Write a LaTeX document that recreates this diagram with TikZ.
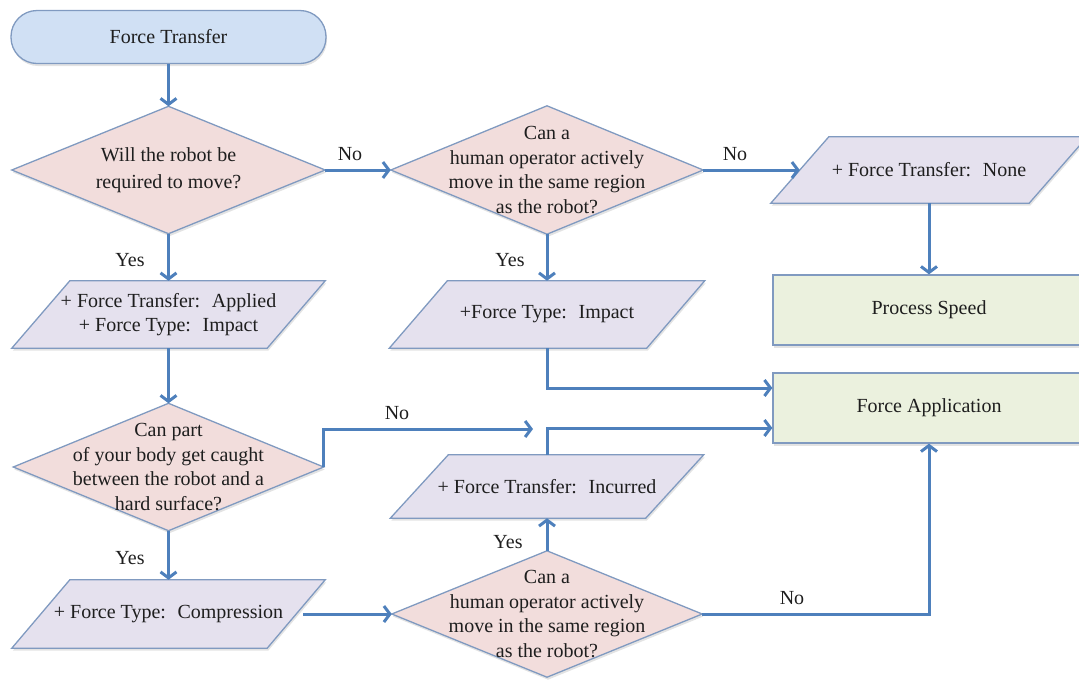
\documentclass[tikz,border=0pt]{standalone}
\usepackage{fontspec}
\setmainfont{Liberation Serif}
\newfontfamily\timesf{Liberation Serif}
\usetikzlibrary{arrows.meta,shadows,calc}
\pgfdeclarelayer{background}
\pgfsetlayers{background,main}
\definecolor{edgeC}{RGB}{128,154,192}
\definecolor{arrowC}{RGB}{78,128,188}
\definecolor{startC}{RGB}{208,224,244}
\definecolor{decC}{RGB}{242,221,220}
\definecolor{ioC}{RGB}{229,225,238}
\definecolor{procC}{RGB}{235,241,222}
\definecolor{txtC}{RGB}{30,30,30}
\tikzset{
  base/.style={inner sep=0pt, text=txtC, font=\timesf\fontsize{20}{24.5}\selectfont, align=center},
  shapeline/.style={draw=edgeC, line width=1.3pt,
    drop shadow={shadow xshift=1pt, shadow yshift=-2.5pt, opacity=0.22}},
  conn/.style={draw=arrowC, line width=3pt, -{Straight Barb[length=6pt,width=16pt]}},
  lbl/.style={base}
}
\newcommand{\dshape}[1]{\begin{pgfonlayer}{background}\path[fill=decC,shapeline] (#1.north)--(#1.east)--(#1.south)--(#1.west)--cycle;\end{pgfonlayer}}
\newcommand{\pshape}[1]{\begin{pgfonlayer}{background}\path[fill=ioC,shapeline] ([xshift=-29pt]#1.south west)--([xshift=29pt]#1.north west)--([xshift=29pt]#1.north east)--([xshift=-29pt]#1.south east)--cycle;\end{pgfonlayer}}
\begin{document}
\begin{tikzpicture}[x=1pt,y=-1pt]
\useasboundingbox (0,0) rectangle (1079,681);
% start
\node[base, minimum width=315pt, minimum height=53pt, rounded corners=26pt, fill=startC, shapeline] (start) at (168.5,37) {Force Transfer};
% decisions
\node[base, minimum width=313pt, minimum height=127pt, font=\timesf\fontsize{20}{27}\selectfont] (d1) at (168.5,170) {Will the robot be\\required to move?};
\dshape{d1}
\node[base, minimum width=312pt, minimum height=128pt] (d2) at (547,170) {Can a\\human operator actively\\move in the same region\\as the robot?};
\dshape{d2}
\node[base, minimum width=310pt, minimum height=127pt] (d3) at (168.5,467) {Can part\\of your body get caught\\between the robot and a\\hard surface?};
\dshape{d3}
\node[base, minimum width=310pt, minimum height=126pt] (d4) at (547,614) {Can a\\human operator actively\\move in the same region\\as the robot?};
\dshape{d4}
% data (parallelograms)
\node[base, minimum width=258pt, minimum height=66pt] (none) at (929,170) {+ Force Transfer:~ None};
\pshape{none}
\node[base, minimum width=255pt, minimum height=67pt] (applied) at (168.5,314.5) {+ Force Transfer:~ Applied\\+ Force Type:~ Impact};
\pshape{applied}
\node[base, minimum width=257pt, minimum height=67pt] (impact) at (547,314.5) {+Force Type:~ Impact};
\pshape{impact}
\node[base, minimum width=255pt, minimum height=63pt] (incurred) at (547,486.5) {+ Force Transfer:~ Incurred};
\pshape{incurred}
\node[base, minimum width=255pt, minimum height=68pt] (comp) at (168.5,614) {+ Force Type:~ Compression};
\pshape{comp}
% processes
\node[base, minimum width=312pt, minimum height=70pt, fill=procC, shapeline] (speed) at (929,310) {Process Speed};
\node[base, minimum width=312pt, minimum height=70pt, fill=procC, shapeline] (forceapp) at (929,408) {Force Application};
% labels
\node[lbl] (no1) at (350,154) {No};
\node[lbl] (no2) at (735,154) {No};
\node[lbl] (yes1) at (130,260) {Yes};
\node[lbl] (yes2) at (510,260) {Yes};
\node[lbl] (no3) at (397,413) {No};
\node[lbl] (yes3) at (130,558) {Yes};
\node[lbl] (yes4) at (508,542) {Yes};
\node[lbl] (no4) at (792,598) {No};
\coordinate (nox) at (533,429);
% connectors
\draw[conn] (start.south) -- (d1.north);
\draw[conn] (d1.east) -- (d2.west);
\draw[conn] (d2.east) -- (none.west);
\draw[conn] (none.south) -- (speed.north);
\draw[conn] (d1.south) -- (applied.north);
\draw[conn] (d2.south) -- (impact.north);
\draw[conn] (applied.south) -- (d3.north);
\draw[conn] (impact.south) |- ([yshift=20pt]forceapp.west);
\draw[conn] (incurred.north) |- ([yshift=-20pt]forceapp.west);
\draw[conn] (d3.east) |- (nox);
\draw[conn] (d3.south) -- (comp.north);
\draw[conn] ([xshift=7pt]comp.east) -- (d4.west);
\draw[conn] (d4.north) -- (incurred.south);
\draw[conn] (d4.east) -| (forceapp.south);
\end{tikzpicture}
\end{document}
